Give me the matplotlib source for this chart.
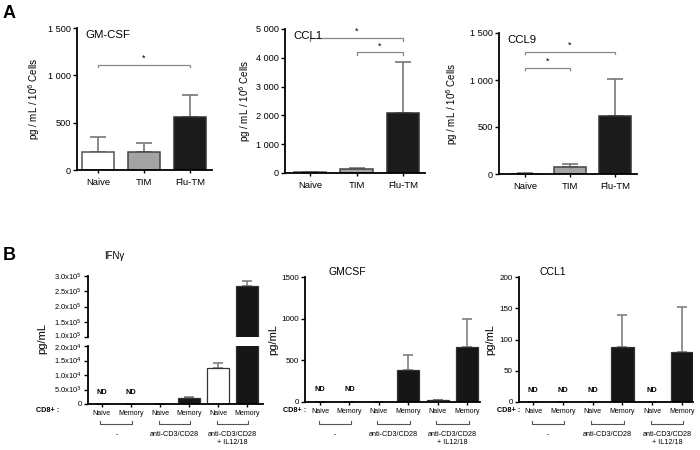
import matplotlib
matplotlib.use("Agg")
import matplotlib.pyplot as plt
from matplotlib.transforms import blended_transform_factory, ScaledTranslation


# panel A data
a_groups = ["Naive", "TIM", "Flu-TM"]
gmcsf_a_mean = [190, 195, 565]
gmcsf_a_err = [155, 95, 225]
ccl1_a_mean = [20, 150, 2100]
ccl1_a_err = [10, 10, 1750]
ccl9_a_mean = [5, 75, 615]
ccl9_a_err = [3, 35, 400]
gmcsf_a_sig = [(0, 2, 1110)]
ccl1_a_sig = [(0, 2, 4690), (1, 2, 4200)]
ccl9_a_sig = [(0, 2, 1300), (0, 1, 1130)]

# panel B data
b_cells = ["Naive", "Memory", "Naive", "Memory", "Naive", "Memory"]
b_stims = ["-", "anti-CD3/CD28", "anti-CD3/CD28\n+ IL12/18"]
ifng_mean = [0, 0, 0, 2000, 12300, 267000]
ifng_err = [0, 0, 0, 500, 2000, 15000]
ifng_nd = [True, True, False, False, False, False]
gmcsf_b_mean = [0, 0, 5, 385, 20, 660]
gmcsf_b_err = [0, 0, 0, 175, 5, 340]
gmcsf_b_nd = [True, True, False, False, False, False]
ccl1_b_mean = [0, 0, 0, 88, 0, 80]
ccl1_b_err = [0, 0, 0, 52, 0, 72]
ccl1_b_nd = [True, True, True, False, True, False]

W, H = 700, 450
A_COLORS = ["white", "#a4a4a4", "#1b1b1b"]
A_EDGES = ["#555555", "#444444", "#333333"]
B_COLORS = ["white", "#161616"] * 3
ERR_COLOR = "#777777"

plt.rcParams["font.family"] = ["Liberation Sans", "DejaVu Sans"]
plt.rcParams["axes.linewidth"] = 1.3


def add_axes(fig, x0, x1, y0, y1):
    return fig.add_axes([x0 / W, 1 - y1 / H, (x1 - x0) / W, (y1 - y0) / H])


def style(ax, bottom=True):
    ax.spines["top"].set_visible(False)
    ax.spines["right"].set_visible(False)
    if not bottom:
        ax.spines["bottom"].set_visible(False)
    ax.tick_params(axis="both", direction="out", length=3, width=1, pad=1.5)


def fmt_thousands(v):
    return f"{v:,}".replace(",", " ")


def ylabel_at(ax, box, text, xpx, size):
    x0, x1 = box[0], box[1]
    ax.set_ylabel(text, fontsize=size)
    ax.yaxis.set_label_coords((xpx - x0) / (x1 - x0), 0.5)


def panel_a(fig, box, xlim, mean, err, ymax, step, sig, title, label_x):
    ax = add_axes(fig, *box)
    style(ax)
    x = range(len(a_groups))
    ax.errorbar(x, mean, yerr=[[0] * len(err), err], fmt="none",
                ecolor=ERR_COLOR, elinewidth=1.2, capsize=5.5, capthick=1.2, zorder=1)
    ax.bar(x, mean, width=0.7, color=A_COLORS, edgecolor=A_EDGES, linewidth=1.1, zorder=2)
    ax.set_xlim(*xlim)
    ax.set_ylim(0, ymax)
    ticks = list(range(0, ymax + 1, step))
    ax.set_yticks(ticks)
    ax.set_yticklabels([fmt_thousands(t) for t in ticks], fontsize=6.6)
    ax.set_xticks(list(x))
    ax.set_xticklabels(a_groups, fontsize=6.8)
    ax.tick_params(axis="x", length=2, pad=4)
    ylabel_at(ax, box, "pg / mL / 10$^6$ Cells", label_x, 7)
    ax.text(0.06, 0.985, title, transform=ax.transAxes, fontsize=8.2,
            ha="left", va="top")
    tick = ymax * 0.018
    for i, j, y in sig:
        ax.plot([i, i, j, j], [y - tick, y, y, y - tick], color="#888888",
                lw=0.9, clip_on=False)
        ax.text((i + j) / 2, y + ymax * 0.012, "*", ha="center", va="bottom",
                fontsize=6.5)
    return ax


def draw_bars_b(ax, mean, err):
    x = range(len(b_cells))
    ax.errorbar(x, mean, yerr=[[0] * len(err), err], fmt="none",
                ecolor=ERR_COLOR, elinewidth=1.1, capsize=3.6, capthick=1.1, zorder=1)
    ax.bar(x, mean, width=0.75, color=B_COLORS, edgecolor="#333333",
           linewidth=0.9, zorder=2)


def b_below(fig, ax, cd8_x):
    x = list(range(len(b_cells)))
    ax.set_xticks(x)
    ax.set_xticklabels(b_cells, fontsize=5)
    ax.tick_params(axis="x", length=2, pad=2.5)
    trans = blended_transform_factory(ax.transData, fig.transFigure)
    fig.text(cd8_x / W, 1 - 410 / H, "CD8+ :", fontsize=5.2, fontweight="bold",
             ha="left", va="center")
    yb = 1 - 424 / H
    yt = 1 - 421 / H
    for g, label in enumerate(b_stims):
        a, b = 2 * g - 0.05, 2 * g + 1.05
        ax.plot([a, a, b, b], [yt, yb, yb, yt], color="#555555", lw=0.8,
                transform=trans, clip_on=False)
        ax.text(2 * g + 0.5, 1 - 431 / H, label, transform=trans, fontsize=5.2,
                ha="center", va="top", linespacing=1.15)


def nd_labels(ax, flags, y):
    for i, f in enumerate(flags):
        if f:
            ax.text(i, y, "ND", ha="center", va="center", fontsize=5.3,
                    fontweight="bold")


def nudge(label, fig, dy_px):
    label.set_transform(label.get_transform() +
                        ScaledTranslation(0, dy_px / 100, fig.dpi_scale_trans))


def main():
    fig = plt.figure(figsize=(W / 100, H / 100), dpi=100)

    fig.text(3 / W, 1 - 13 / H, "A", fontsize=13, fontweight="bold",
             ha="left", va="center")
    fig.text(3 / W, 1 - 256 / H, "B", fontsize=13, fontweight="bold",
             ha="left", va="center")

    panel_a(fig, (77, 212, 28, 170), (-0.46, 2.48), gmcsf_a_mean, gmcsf_a_err,
            1500, 500, gmcsf_a_sig, "GM-CSF", 42)
    panel_a(fig, (285, 425, 29, 173), (-0.54, 2.47), ccl1_a_mean, ccl1_a_err,
            5000, 1000, ccl1_a_sig, "CCL1", 253)
    panel_a(fig, (499, 637, 33, 174), (-0.58, 2.49), ccl9_a_mean, ccl9_a_err,
            1500, 500, ccl9_a_sig, "CCL9", 460)

    # IFNg with broken axis
    xlim = (-0.48, 5.55)
    top_box = (88, 263, 276, 337)
    bot_box = (88, 263, 346, 404)
    top = add_axes(fig, *top_box)
    bot = add_axes(fig, *bot_box)
    style(top, bottom=False)
    style(bot)
    draw_bars_b(top, ifng_mean, ifng_err)
    draw_bars_b(bot, ifng_mean, ifng_err)
    top.set_xlim(*xlim)
    bot.set_xlim(*xlim)
    top.set_ylim(1e5, 3e5)
    bot.set_ylim(0, 2e4)
    top.set_yticks([1e5, 1.5e5, 2e5, 2.5e5, 3e5])
    top_labels = top.set_yticklabels(["1.0x10$^5$", "1.5x10$^5$", "2.0x10$^5$",
                                      "2.5x10$^5$", "3.0x10$^5$"], fontsize=5.4)
    top.set_xticks([])
    bot.set_yticks([0, 5e3, 1e4, 1.5e4, 2e4])
    bot_labels = bot.set_yticklabels(["0", "5.0x10$^3$", "1.0x10$^4$", "1.5x10$^4$",
                                      "2.0x10$^4$"], fontsize=5.4)
    nudge(top_labels[0], fig, 1.5)
    nudge(bot_labels[-1], fig, -1.5)
    nd_labels(bot, ifng_nd, 4000)
    b_below(fig, bot, 36)
    fig.text(42 / W, 1 - 338 / H, "pg/mL", fontsize=8, rotation=90,
             ha="center", va="center")
    fig.text(114 / W, 1 - 256 / H, "IFN\u03b3", fontsize=7, ha="center",
             va="center")

    # GMCSF
    box = (305, 480, 277, 402)
    ax = add_axes(fig, *box)
    style(ax)
    draw_bars_b(ax, gmcsf_b_mean, gmcsf_b_err)
    ax.set_xlim(-0.51, 5.44)
    ax.set_ylim(0, 1500)
    ax.set_yticks([0, 500, 1000, 1500])
    ax.set_yticklabels(["0", "500", "1000", "1500"], fontsize=5.8)
    ylabel_at(ax, box, "pg/mL", 278, 8)
    nd_labels(ax, gmcsf_b_nd, 150)
    b_below(fig, ax, 283)
    fig.text(347 / W, 1 - 272 / H, "GMCSF", fontsize=7.5, ha="center",
             va="center")

    # CCL1
    box = (519, 693, 277, 402)
    ax = add_axes(fig, *box)
    style(ax)
    draw_bars_b(ax, ccl1_b_mean, ccl1_b_err)
    ax.set_xlim(-0.47, 5.37)
    ax.set_ylim(0, 200)
    ax.set_yticks([0, 50, 100, 150, 200])
    ax.set_yticklabels(["0", "50", "100", "150", "200"], fontsize=5.8)
    ylabel_at(ax, box, "pg/mL", 495, 8)
    nd_labels(ax, ccl1_b_nd, 18)
    b_below(fig, ax, 497)
    fig.text(553 / W, 1 - 272 / H, "CCL1", fontsize=7.5, ha="center",
             va="center")

    fig.savefig("out.png", dpi=100)
    plt.close(fig)


if __name__ == "__main__":
    main()
